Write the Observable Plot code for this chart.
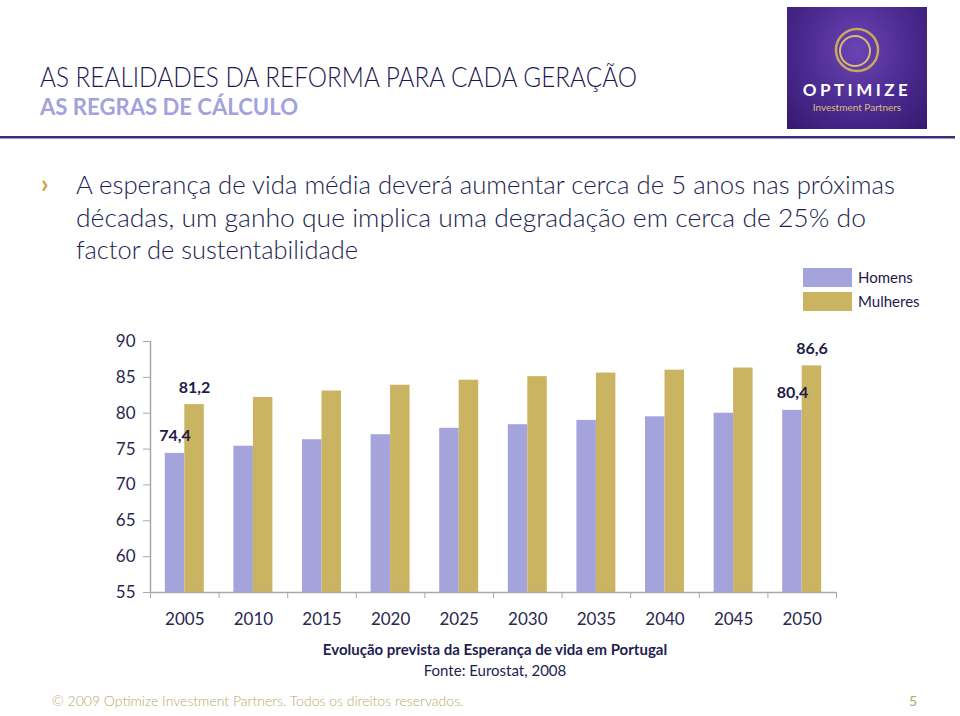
<!DOCTYPE html>
<html><head><meta charset="utf-8">
<script src="https://cdn.jsdelivr.net/npm/d3@7"></script>
<script src="https://cdn.jsdelivr.net/npm/@observablehq/plot@0.6"></script>
<style>
html,body{margin:0;padding:0;background:#fff}
body{width:960px;height:716px;position:relative;overflow:hidden;font-family:Lato,"Open Sans",sans-serif;color:#221e50}
#head{position:absolute;left:0;top:0}
#chart{position:absolute;left:0;top:325px}
#logo{position:absolute;left:787px;top:7px;width:140px;height:122px;background:radial-gradient(ellipse at 50% 35%,#6b44b3 0%,#4a2a8f 55%,#35196e 100%)}
.cap{position:absolute;left:260px;width:470px;text-align:center;color:#221e50;font-size:15px}
#foot{position:absolute;left:52px;top:692px;font-size:14px;color:#b8a968;font-weight:300}
#pg{position:absolute;left:909px;top:692px;font-size:14px;color:#b8a968}
</style></head><body>
<svg id="head" width="960" height="320">
  <text x="40" y="87" font-size="28" font-weight="300" fill="#1c1850" textLength="597" lengthAdjust="spacingAndGlyphs" font-family="Lato">AS REALIDADES DA REFORMA PARA CADA GERAÇÃO</text>
  <text x="40" y="115" font-size="22" font-weight="bold" fill="#a3a2dc" textLength="258" lengthAdjust="spacingAndGlyphs" font-family="Lato">AS REGRAS DE CÁLCULO</text>
  <rect x="0" y="136" width="955" height="2.5" fill="#3b2d7b"/>
  <text x="41" y="193" font-size="26" font-weight="bold" fill="#c8a838" font-family="Lato">›</text>
  <text x="76" y="194" font-size="26" font-weight="300" fill="#221e50" textLength="819" lengthAdjust="spacingAndGlyphs" font-family="Lato">A esperança de vida média deverá aumentar cerca de 5 anos nas próximas</text>
  <text x="76" y="227" font-size="26" font-weight="300" fill="#221e50" textLength="790" lengthAdjust="spacingAndGlyphs" font-family="Lato">décadas, um ganho que implica uma degradação em cerca de 25% do</text>
  <text x="76" y="259" font-size="26" font-weight="300" fill="#221e50" textLength="282" lengthAdjust="spacingAndGlyphs" font-family="Lato">factor de sustentabilidade</text>
  <g id="legend"></g>
</svg>
<div id="logo">
  <svg width="140" height="122">
    <circle cx="70" cy="43" r="21" fill="none" stroke="#c9a860" stroke-width="2.5"/>
    <circle cx="68" cy="44" r="15" fill="none" stroke="#d8bd78" stroke-width="2"/>
    <text x="70" y="89" text-anchor="middle" font-size="17" font-weight="bold" fill="#fff" letter-spacing="3.5" font-family="Lato">OPTIMIZE</text>
    <text x="70" y="104" text-anchor="middle" font-size="10" fill="#d9c07a" font-family="Lato">Investment Partners</text>
  </svg>
</div>
<div id="chart"></div>
<div class="cap" style="top:640px;font-weight:bold">Evolução prevista da Esperança de vida em Portugal</div>
<div class="cap" style="top:661px">Fonte: Eurostat, 2008</div>
<div id="foot">© 2009 Optimize Investment Partners. Todos os direitos reservados.</div>
<div id="pg">5</div>
<script>
const years = [2005, 2010, 2015, 2020, 2025, 2030, 2035, 2040, 2045, 2050];
const homens = [74.4, 75.4, 76.3, 77.0, 77.9, 78.4, 79.0, 79.5, 80.0, 80.4];
const mulheres = [81.2, 82.2, 83.1, 83.9, 84.6, 85.1, 85.6, 86.0, 86.3, 86.6];
const series = ["Homens", "Mulheres"];
const colors = ["#a4a3dc", "#cab461"];
const yTicks = [55, 60, 65, 70, 75, 80, 85, 90];
const labelYears = [2005, 2050];

const half = 2.5;       // half of the 5-year category step
const barW = 1.42;      // bar width in year units
const rows = [];
years.forEach((yr, i) => {
  rows.push({year: yr, series: "Homens", value: homens[i]});
  rows.push({year: yr, series: "Mulheres", value: mulheres[i]});
});
const x1 = d => d.series === "Homens" ? d.year - barW : d.year;
const x2 = d => d.series === "Homens" ? d.year : d.year + barW;
const xc = d => d.series === "Homens" ? d.year - barW / 2 : d.year + barW / 2;
const boundaries = years.map(y => y - half).concat([years[years.length - 1] + half]);
const fmt = v => v.toFixed(1).replace(".", ",");

const plot = Plot.plot({
  width: 960, height: 310,
  marginLeft: 150, marginRight: 124, marginTop: 16, marginBottom: 43,
  x: {domain: [years[0] - half, years[years.length - 1] + half], axis: null},
  y: {domain: [55, 90], axis: null},
  color: {domain: series, range: colors},
  style: {fontFamily: "Lato, sans-serif", background: "transparent", color: "#2a2750"},
  marks: [
    Plot.rectY(rows, {x1, x2, y1: 55, y2: "value", fill: "series"}),
    Plot.ruleY([55], {stroke: "#a8a8a8", strokeWidth: 1.5}),
    Plot.ruleX([years[0] - half], {y1: 55, y2: 90, stroke: "#a8a8a8", strokeWidth: 1.5}),
    Plot.axisY({ticks: yTicks, tickSize: 7, tickPadding: 8, fontSize: 17, stroke: "#a8a8a8", fill: "#2a2750", label: null, tickFormat: d => String(d)}),
    Plot.axisX({ticks: boundaries, tickSize: 6, stroke: "#a8a8a8", tickFormat: () => "", label: null}),
    Plot.axisX({ticks: years, tickSize: 0, tickPadding: 20, fontSize: 17, fill: "#2a2750", tickFormat: d => String(d), label: null}),
    Plot.text(rows.filter(d => labelYears.includes(d.year)), {x: xc, y: "value", text: d => fmt(d.value), dy: -17, fontSize: 16, fontWeight: "bold", fill: "#1f1a4a"})
  ]
});
document.getElementById("chart").appendChild(plot);

// legend built from the plot's color scale
const cs = plot.scale("color");
const lg = d3.select("#legend");
cs.domain.forEach((s, i) => {
  lg.append("rect").attr("x", 803).attr("y", 268 + i * 24).attr("width", 49).attr("height", 19).attr("fill", cs.range[i]);
  lg.append("text").attr("x", 858).attr("y", 283 + i * 24).attr("font-size", 15).attr("fill", "#1f1a4a").attr("font-family", "Lato").text(s);
});
</script>
</body></html>
